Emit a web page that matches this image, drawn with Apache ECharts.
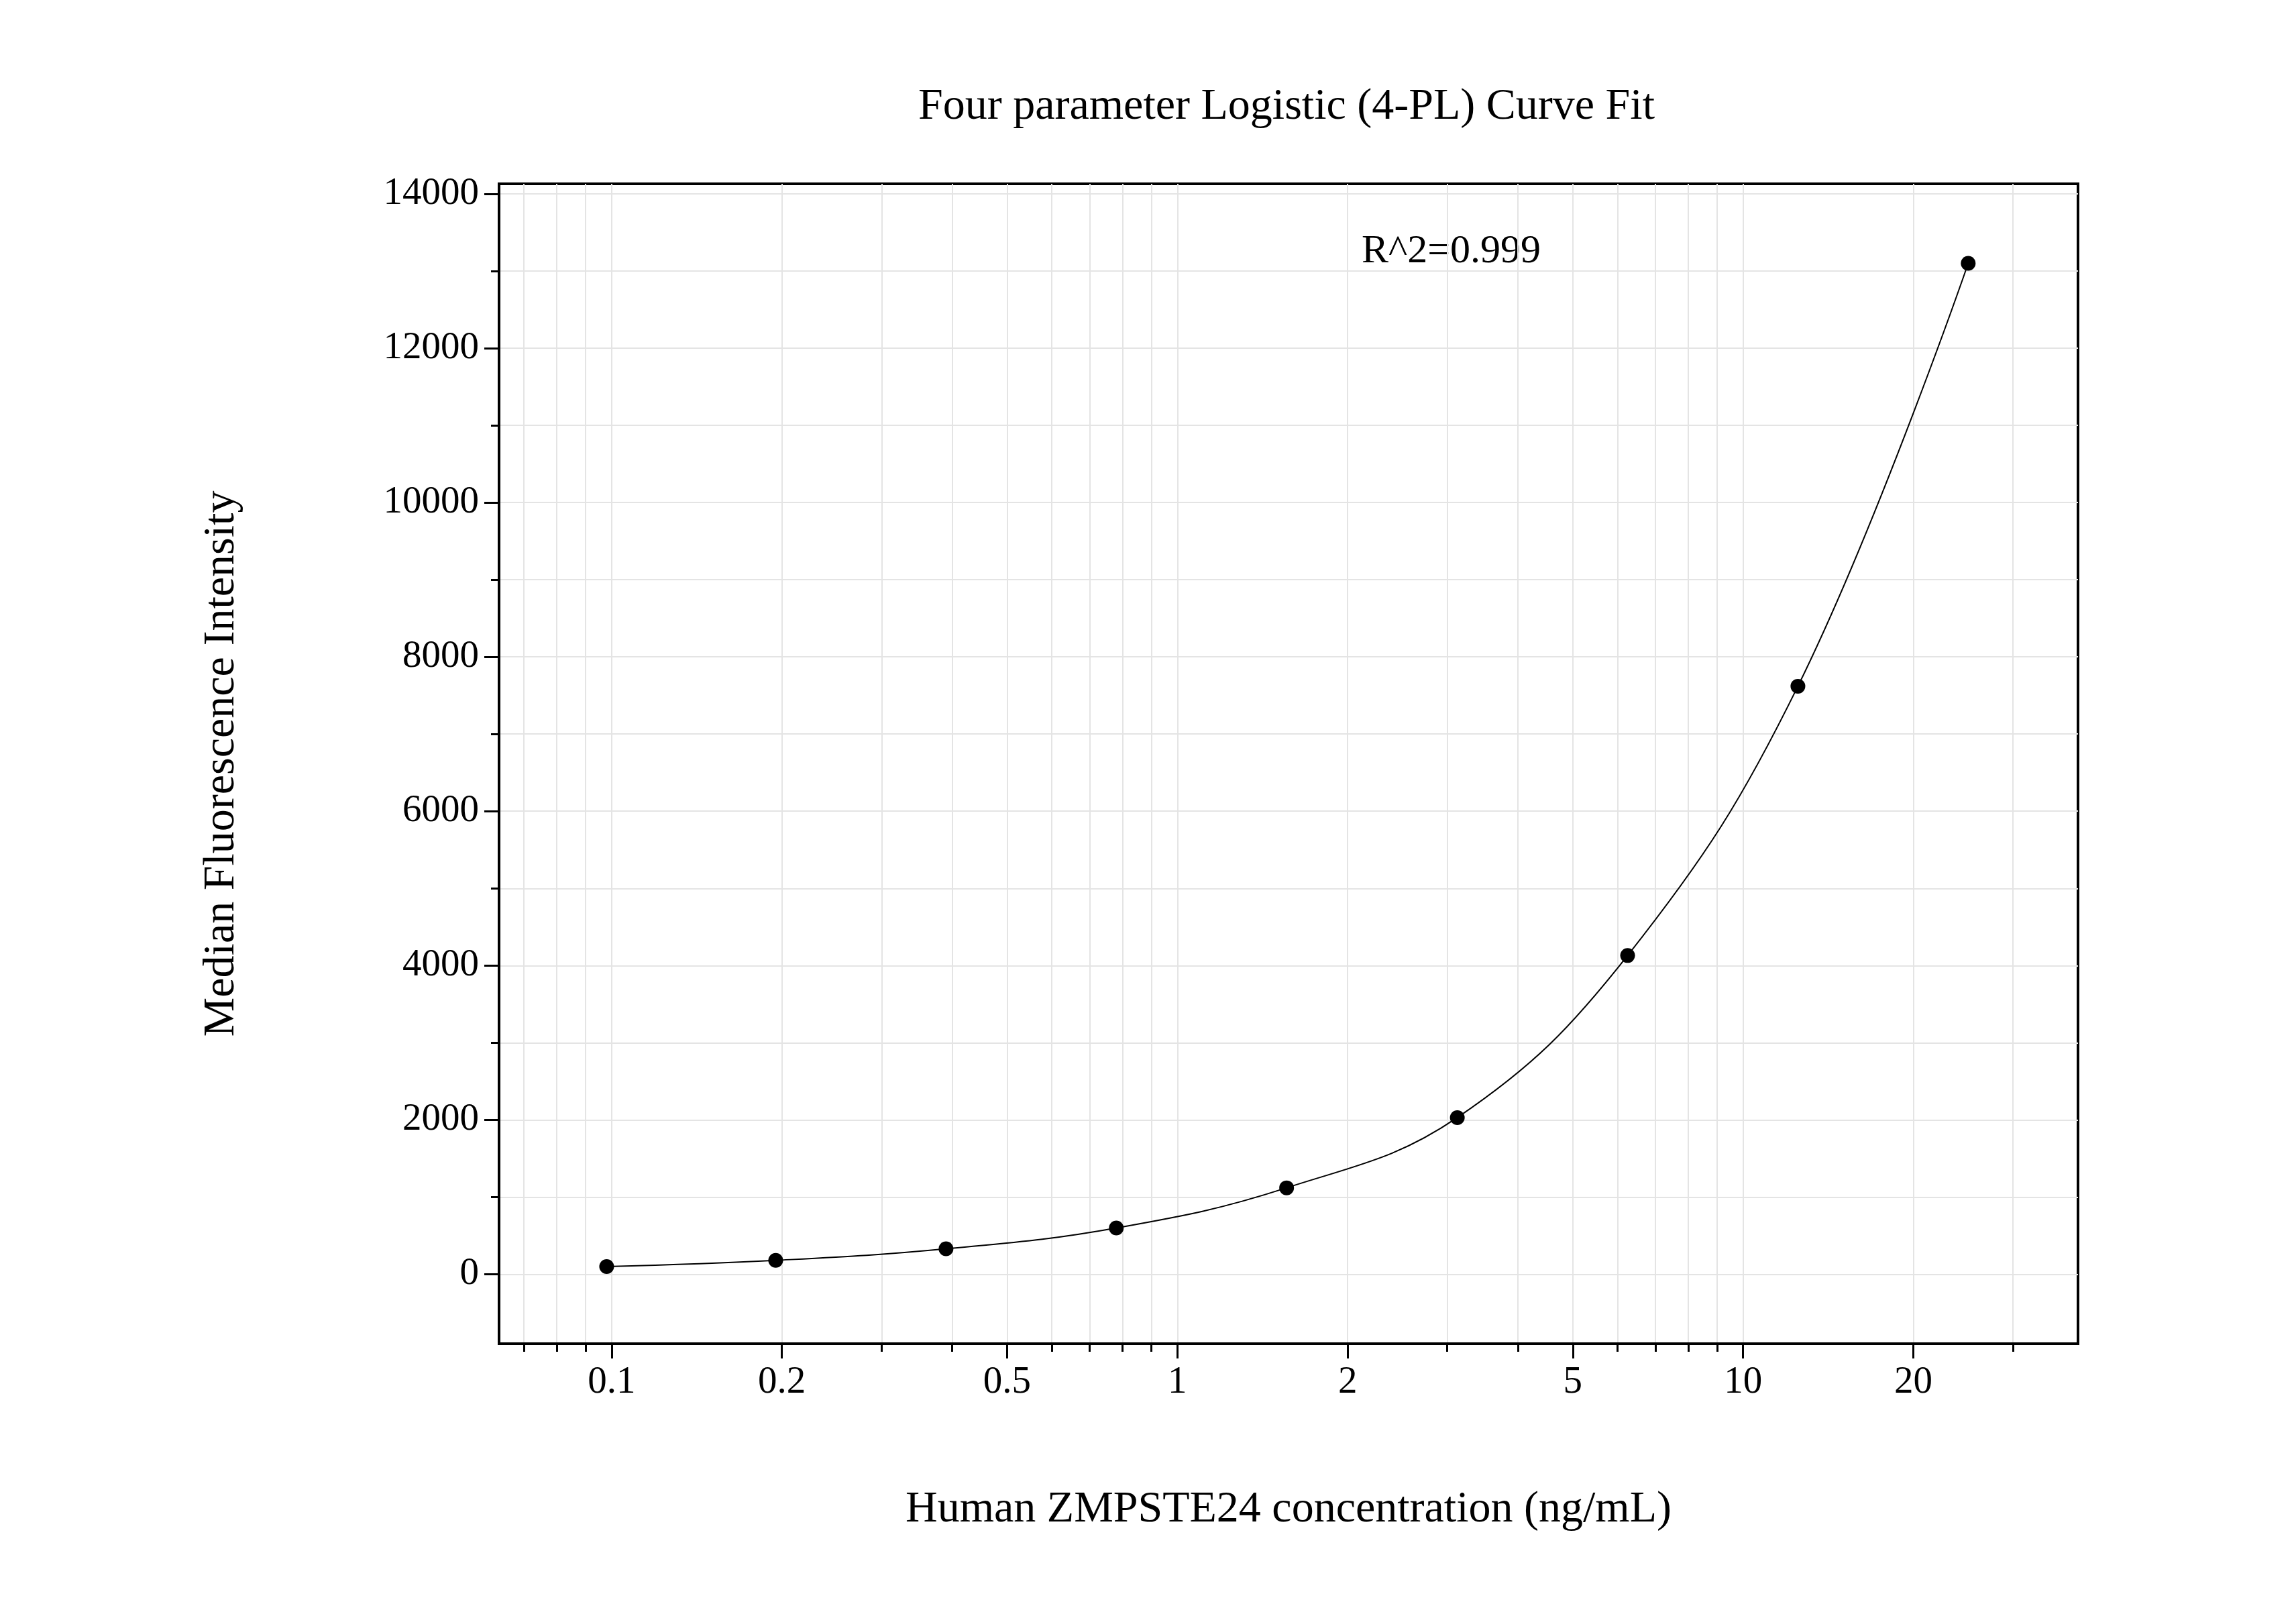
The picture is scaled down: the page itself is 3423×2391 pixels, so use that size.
<!DOCTYPE html>
<html><head><meta charset="utf-8">
<script src="https://cdn.jsdelivr.net/npm/echarts@6/dist/echarts.min.js"></script>
<style>html,body{margin:0;background:#fff}#main{width:3423px;height:2391px}</style>
</head><body><div id="main"></div>
<script>
var conc = [0.098, 0.195, 0.39, 0.78, 1.56, 3.125, 6.25, 12.5, 25];
var mfi = [100, 180, 330, 600, 1120, 2030, 4130, 7620, 13100];
var xMajor = [0.1, 0.2, 0.5, 1, 2, 5, 10, 20];
var yMajor = [0, 2000, 4000, 6000, 8000, 10000, 12000, 14000];
var yMinor = [1000, 3000, 5000, 7000, 9000, 11000, 13000];

var lg = function (v) { return Math.log10(v); };
var xMinor = [];
[0.01, 0.1, 1, 10].forEach(function (d) {
  for (var k = 1; k <= 9; k++) {
    var v = lg(k * d);
    if (v > -1.2 && v < 1.59) xMinor.push(v);
  }
});
var pts = conc.map(function (c, i) { return [lg(c), mfi[i]]; });
var font = 'Liberation Serif';

var chart = echarts.init(document.getElementById('main'));
var xBase = {
  type: 'value', min: -1.199, max: 1.592,
  axisLine: { show: true, onZero: false, lineStyle: { color: '#000', width: 4 } }
};
var option = {
  backgroundColor: '#fff',
  title: { text: 'Four parameter Logistic (4-PL) Curve Fit', left: 1913, top: 122, textAlign: 'center',
    textStyle: { fontFamily: font, fontSize: 66, fontWeight: 'normal', color: '#000' } },
  grid: { left: 744, right: 325, top: 274, bottom: 388, show: true, borderColor: '#000', borderWidth: 4 },
  xAxis: [
    Object.assign({}, xBase, {
      name: 'Human ZMPSTE24 concentration (ng/mL)', nameLocation: 'middle', nameGap: 215,
      nameTextStyle: { fontFamily: font, fontSize: 66, color: '#000' },
      axisTick: { show: true, length: 12, customValues: xMinor, lineStyle: { color: '#000', width: 3 } },
      axisLabel: { show: false },
      splitLine: { show: true, lineStyle: { color: '#e4e4e4', width: 2 } }
    }),
    Object.assign({}, xBase, {
      position: 'bottom',
      axisTick: { show: true, length: 22, customValues: xMajor.map(lg), lineStyle: { color: '#000', width: 3 } },
      axisLabel: { show: true, customValues: xMajor.map(lg), margin: 30, fontFamily: font, fontSize: 57, color: '#000',
        formatter: function (v) { return String(Math.round(Math.pow(10, v) * 10) / 10); } },
      splitLine: { show: false }
    })
  ],
  yAxis: [
    {
      type: 'value', min: -900, max: 14130,
      name: 'Median Fluorescence Intensity', nameLocation: 'middle', nameGap: 380,
      nameTextStyle: { fontFamily: font, fontSize: 66, color: '#000' },
      axisLine: { show: true, onZero: false, lineStyle: { color: '#000', width: 4 } },
      axisTick: { show: true, length: 22, customValues: yMajor, lineStyle: { color: '#000', width: 3 } },
      axisLabel: { show: true, customValues: yMajor, margin: 30, fontFamily: font, fontSize: 57, color: '#000',
        formatter: function (v) { return String(v); } },
      splitLine: { show: false }
    },
    {
      type: 'value', min: -900, max: 14130, position: 'left',
      axisLine: { show: false, onZero: false },
      axisTick: { show: true, length: 12, customValues: yMajor.concat(yMinor), lineStyle: { color: '#000', width: 3 } },
      axisLabel: { show: false },
      splitLine: { show: true, lineStyle: { color: '#e4e4e4', width: 2 } }
    }
  ],
  graphic: [{ type: 'text', left: 2030, top: 345,
    style: { text: 'R^2=0.999', fontFamily: font, fontSize: 60, fill: '#000' } }],
  series: [
    { type: 'line', data: pts, smooth: 0.4, showSymbol: false, lineStyle: { color: '#000', width: 2 }, z: 2 },
    { type: 'scatter', data: pts, symbolSize: 22, itemStyle: { color: '#000', opacity: 1 }, z: 3 }
  ]
};
chart.setOption(option);
</script></body></html>
